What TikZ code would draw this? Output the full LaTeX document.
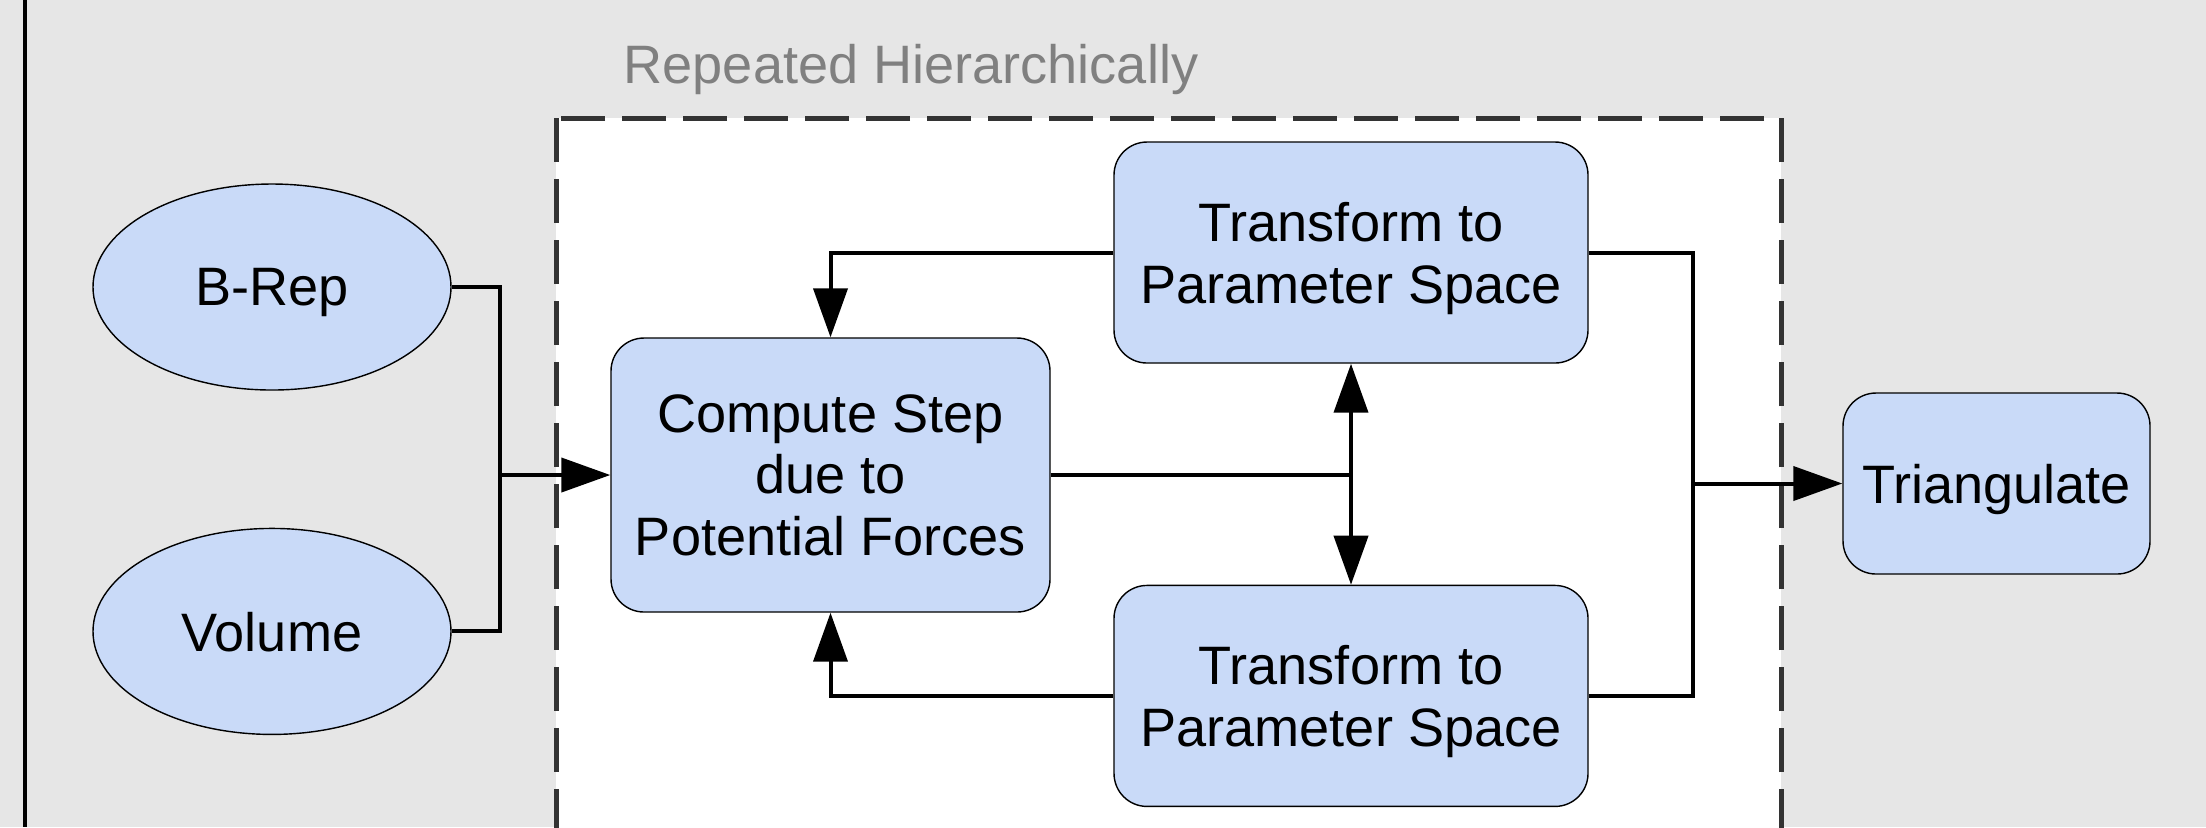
\documentclass[tikz,border=0pt]{standalone}
\usepackage{fontspec}
\setmainfont{Liberation Sans}
\usetikzlibrary{positioning,arrows.meta,calc,shapes.geometric}
\definecolor{figback}{gray}{0.902}
\definecolor{figblue}{HTML}{C9DAF8}
\definecolor{figdash}{gray}{0.2}
\definecolor{figlabel}{gray}{0.5}
\tikzset{
  fig/.style={font=\fontsize{15.4}{17.6}\selectfont},
  box/.style={draw=black,line width=0.4pt,fill=figblue,rounded corners=3.3mm,
              align=center,inner sep=0pt,text depth=0pt},
  blob/.style={ellipse,draw=black,line width=0.4pt,fill=figblue,inner sep=0pt,
               text depth=0pt,minimum width=35.8mm,minimum height=20.6mm},
  wire/.style={line width=0.4mm},
  ln/.style={-{Triangle[length=4.9mm,width=3.4mm]},line width=0.4mm},
  lnb/.style={{Triangle[length=4.9mm,width=3.4mm]}-{Triangle[length=4.9mm,width=3.4mm]},
              line width=0.4mm},
}

\begin{document}
\begin{tikzpicture}[fig,
  xfbox/.style={box,minimum width=47.4mm,minimum height=22.1mm},
  grp/.style={draw=figdash,line width=0.5mm,dash pattern=on 4.4mm off 1.7mm,fill=white}]

\useasboundingbox (0,0) rectangle (220.6mm,-82.7mm);
\fill[figback] (0,0) rectangle (220.6mm,-82.7mm);

% margin rule and the repeated block, cut off at the page edge
\begin{scope}
  \clip (0,0) rectangle (220.6mm,-82.7mm);
  \draw[line width=0.45mm] (2.5mm,0) -- (2.5mm,-82.7mm);
  \draw[grp] (55.6mm,-11.8mm) rectangle (178.1mm,-90mm);
\end{scope}

\node[text=figlabel,anchor=base] (title) at (91.1mm,-8.3mm) {Repeated Hierarchically};

\node[blob] (brep) at (27.2mm,-28.7mm) {B-Rep};
\node[blob,below=13.7mm of brep] (volume) {Volume};

\node[box,minimum width=43.9mm,minimum height=27.4mm] (compute) at (83.05mm,-47.5mm)
  {Compute Step\\due to\\Potential Forces};
\node[xfbox] (ttop) at (135.1mm,-25.25mm) {Transform to\\Parameter Space};
\node[xfbox,below=22.1mm of ttop] (tbot) {Transform to\\Parameter Space};

\node[box,minimum width=30.7mm,minimum height=18.1mm] (tri) at (199.65mm,-48.35mm)
  {Triangulate};

\coordinate (jin) at ($(compute.west)+(-11mm,0)$);
\coordinate (jout) at ($(tri.west)+(-14.9mm,0)$);
\coordinate (jmid) at (compute.east -| ttop.south);

% inputs
\draw[wire] (brep.east) -| (jin);
\draw[wire] (volume.east) -| (jin);
\draw[ln] (jin) -- (compute.west);

% loop through the two transforms
\draw[ln] (ttop.west) -| (compute.north);
\draw[ln] (tbot.west) -| (compute.south);
\draw[wire] (compute.east) -- (jmid);
\draw[lnb] (ttop.south) -- (tbot.north);

% output
\draw[wire] (ttop.east) -| (jout);
\draw[wire] (tbot.east) -| (jout);
\draw[ln] (jout) -- (tri.west);

\end{tikzpicture}
\end{document}
